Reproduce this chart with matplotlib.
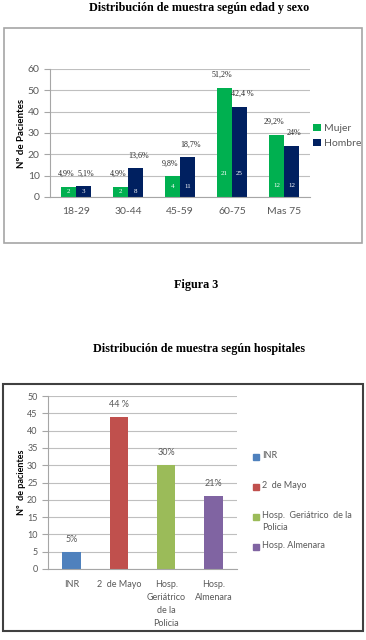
import matplotlib
matplotlib.use("Agg")
import matplotlib.pyplot as plt
from matplotlib.patches import Rectangle
import numpy as np

# chart 1: age groups by sex
age_groups = ["18-29", "30-44", "45-59", "60-75", "Mas 75"]
mujer_pct = [4.9, 4.9, 9.8, 51.2, 29.2]
hombre_pct = [5.1, 13.6, 18.7, 42.4, 24]
mujer_n = [2, 2, 4, 21, 12]
hombre_n = [3, 8, 11, 25, 12]
mujer_lbl = ["4,9%", "4,9%", "9,8%", "51,2%", "29,2%"]
hombre_lbl = ["5,1%", "13,6%", "18,7%", "42,4 %", "24%"]

# chart 2: hospitals
hospitals = ["INR", "2  de Mayo", "Hosp.  Geriátrico  de la Policia", "Hosp. Almenara"]
hosp_ticks = ["INR", "2  de Mayo", "Hosp.\nGeriátrico\nde la\nPolicia", "Hosp.\nAlmenara"]
hosp_legend = ["INR", "2  de Mayo", "Hosp.  Geriátrico  de la\nPolicia", "Hosp. Almenara"]
hosp_pct = [5, 44, 30, 21]
hosp_lbl = ["5%", "44 %", "30%", "21%"]
hosp_colors = ["#4F81BD", "#C0504D", "#9BBB59", "#8064A2"]

W, H = 366, 640
fig = plt.figure(figsize=(W / 100, H / 100), dpi=100)
fig.patch.set_facecolor("white")

sans = ["Lato", "DejaVu Sans"]
serif = ["Liberation Serif", "DejaVu Serif"]
grey = "#595959"

def fx(px):
    return px / W

def fy(py):
    return 1 - py / H

# titles (centred a bit right of the page centre, like the scan)
fig.text(fx(199), fy(8), "Distribución de muestra según edad y sexo", ha="center", va="center",
         family=serif, weight="bold", fontsize=8.7)
fig.text(fx(196), fy(285), "Figura 3", ha="center", va="center", family=serif, weight="bold", fontsize=8.7)
fig.text(fx(199), fy(349), "Distribución de muestra según hospitales", ha="center", va="center",
         family=serif, weight="bold", fontsize=8.7)

# chart borders
fig.patches.append(Rectangle((fx(4), fy(243)), fx(358), 215 / H, transform=fig.transFigure,
                             fill=False, edgecolor="#A6A6A6", linewidth=1.2))
fig.patches.append(Rectangle((fx(3), fy(631)), fx(360), 247 / H, transform=fig.transFigure,
                             fill=False, edgecolor="#404040", linewidth=1.5))

def style_axes(ax):
    ax.set_facecolor("none")
    for s in ["top", "right"]:
        ax.spines[s].set_visible(False)
    ax.spines["left"].set_color("#A6A6A6")
    ax.spines["bottom"].set_color("#A6A6A6")
    ax.grid(axis="y", color="#BFBFBF", linewidth=0.8)
    ax.set_axisbelow(True)
    ax.tick_params(axis="y", colors="#A6A6A6", labelcolor=grey, length=4, width=0.8)
    ax.tick_params(axis="x", length=0, labelcolor=grey)

# ---- top chart
ax1 = fig.add_axes([fx(50), fy(197), fx(260), 128 / H])
style_axes(ax1)
x = np.arange(len(age_groups))
bw = 0.29
ax1.bar(x - bw / 2, mujer_pct, bw, color="#00B050", label="Mujer")
ax1.bar(x + bw / 2, hombre_pct, bw, color="#002060", label="Hombre")
ax1.set_xlim(-0.5, len(age_groups) - 0.5)
ax1.set_ylim(0, 60)
ax1.set_yticks(range(0, 61, 10))
ax1.set_xticks(x)
ax1.set_xticklabels(age_groups, family=sans, fontsize=7.5)
for t in ax1.get_yticklabels():
    t.set_family(sans)
    t.set_fontsize(7.5)
ax1.tick_params(axis="x", pad=7)
ax1.set_ylabel("Nº de Pacientes", family=sans, weight="bold", fontsize=7, color="black", labelpad=1)

count_y = [2.5, 2.5, 5, 11, 5.5]
for i in range(len(age_groups)):
    ax1.annotate(mujer_lbl[i], (x[i] - bw / 2, mujer_pct[i]), xytext=(-2, 9), textcoords="offset points",
                 ha="center", va="center", family=serif, fontsize=5.8, color="#262626")
    ax1.annotate(hombre_lbl[i], (x[i] + bw / 2, hombre_pct[i]), xytext=(2, 9), textcoords="offset points",
                 ha="center", va="center", family=serif, fontsize=5.8, color="#262626")
    ax1.text(x[i] - bw / 2, count_y[i], str(mujer_n[i]), ha="center", va="center",
             family=serif, fontsize=5, color="white")
    ax1.text(x[i] + bw / 2, count_y[i], str(hombre_n[i]), ha="center", va="center",
             family=serif, fontsize=5, color="white")

leg = ax1.legend(loc="center left", bbox_to_anchor=(fx(304), fy(136)), bbox_transform=fig.transFigure,
                 frameon=False, handlelength=0.7, handleheight=0.7, handletextpad=0.3,
                 labelspacing=0.6, prop={"family": sans, "size": 7.5})
for t in leg.get_texts():
    t.set_color(grey)

# ---- bottom chart
ax2 = fig.add_axes([fx(48), fy(569), fx(189), 173 / H])
style_axes(ax2)
x2 = np.arange(len(hospitals))
ax2.bar(x2, hosp_pct, 0.39, color=hosp_colors)
ax2.set_xlim(-0.5, len(hospitals) - 0.5)
ax2.set_ylim(0, 50)
ax2.set_yticks(range(0, 51, 5))
ax2.set_xticks(x2)
ax2.set_xticklabels(hosp_ticks, family=sans, fontsize=6.5, linespacing=1.55, va="top")
for t in ax2.get_yticklabels():
    t.set_family(sans)
    t.set_fontsize(6.5)
ax2.tick_params(axis="x", pad=8)
ax2.set_ylabel("Nº  de pacientes", family=sans, weight="bold", fontsize=6.5, color="black", labelpad=1)
for i in range(len(hospitals)):
    ax2.annotate(hosp_lbl[i], (x2[i], hosp_pct[i]), xytext=(0, 9), textcoords="offset points",
                 ha="center", va="center", family=sans, fontsize=6.5, color=grey)

# legend for bottom chart
leg_y = [457, 487, 517, 547]
for name, c, yy in zip(hosp_legend, hosp_colors, leg_y):
    fig.patches.append(Rectangle((fx(253), fy(yy + 3)), fx(6), 6 / H, transform=fig.transFigure,
                                 color=c))
    fig.text(fx(262), fy(yy - 6), name, ha="left", va="top", family=sans, fontsize=6.5,
             color=grey, linespacing=1.4)

fig.savefig("out.png", dpi=100, facecolor="white")
